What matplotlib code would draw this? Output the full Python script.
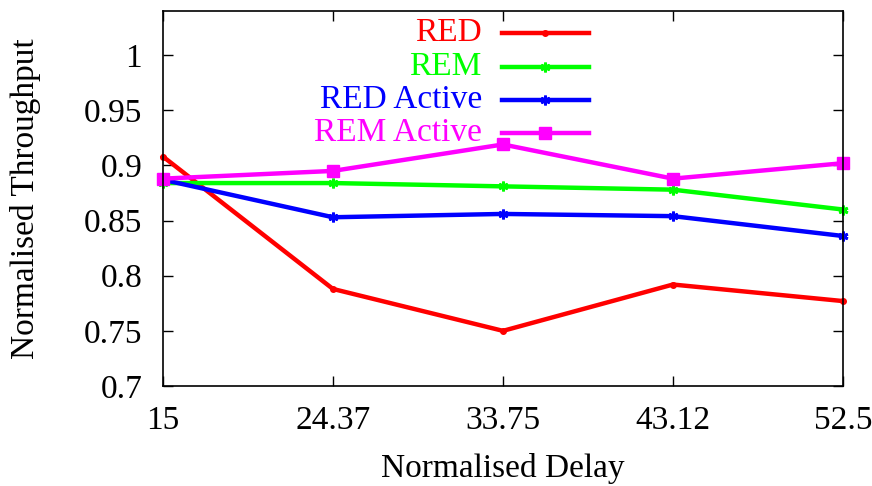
import matplotlib
matplotlib.use("Agg")
import matplotlib.pyplot as plt
from matplotlib.lines import Line2D

plt.rcParams['font.family'] = ['Liberation Serif', 'DejaVu Serif']

delays = [15, 24.37, 33.75, 43.12, 52.5]
tick_labels = ["15", "24.37", "33.75", "43.12", "52.5"]

red = [0.908, 0.788, 0.750, 0.792, 0.777]
rem = [0.884, 0.884, 0.881, 0.878, 0.860]
red_active = [0.887, 0.853, 0.856, 0.854, 0.836]
rem_active = [0.888, 0.895, 0.919, 0.888, 0.902]

series = [
    ("RED", red, "#ff0000", dict(marker="o", markersize=4)),
    ("REM", rem, "#00ff00", dict(marker=(6, 2, 0), markersize=7, markeredgewidth=2)),
    ("RED Active", red_active, "#0000ff", dict(marker=(6, 2, 0), markersize=7, markeredgewidth=2)),
    ("REM Active", rem_active, "#ff00ff", dict(marker="s", markersize=9)),
]

FS = 24

fig = plt.figure(figsize=(8.72, 4.86), dpi=100)
ax = fig.add_axes([163 / 872, 1 - 386 / 486, 680 / 872, 375 / 486])

for name, vals, color, mk in series:
    ax.plot(delays, vals, color=color, linewidth=3.2, markeredgecolor=color,
            markerfacecolor=color, clip_on=False, **mk)

ax.set_xlim(15, 52.5)
ax.set_ylim(0.7, 1.04)
ax.set_xticks(delays)
ax.set_xticklabels(tick_labels)
ax.set_yticks([0.7, 0.75, 0.8, 0.85, 0.9, 0.95, 1.0])
ax.set_yticklabels(["0.7", "0.75", "0.8", "0.85", "0.9", "0.95", "1"])
ax.tick_params(direction="in", length=7, width=1, top=True, right=True,
               labelsize=FS, colors="black")
ax.tick_params(axis="y", pad=15)
ax.tick_params(axis="x", pad=14)
for s in ax.spines.values():
    s.set_linewidth(1.2)

ax.set_xlabel("Normalised Delay", fontsize=FS, labelpad=12)
ax.set_ylabel("Normalised Throughput", fontsize=FS, labelpad=31)

# Legend: right-aligned coloured labels with sample lines to their right
ys = [0.9413, 0.8507, 0.7627, 0.6747]
for (name, vals, color, mk), yy in zip(series, ys):
    ax.text(0.469, yy, name, transform=ax.transAxes, ha="right", va="center",
            color=color, fontsize=FS)
    ax.add_line(Line2D([0.4985, 0.6265], [yy, yy], transform=ax.transAxes,
                       color=color, linewidth=3.2))
    ax.add_line(Line2D([0.5618], [yy], transform=ax.transAxes, color=color,
                       markeredgecolor=color, markerfacecolor=color, **mk))

fig.savefig("out.png", dpi=100)
